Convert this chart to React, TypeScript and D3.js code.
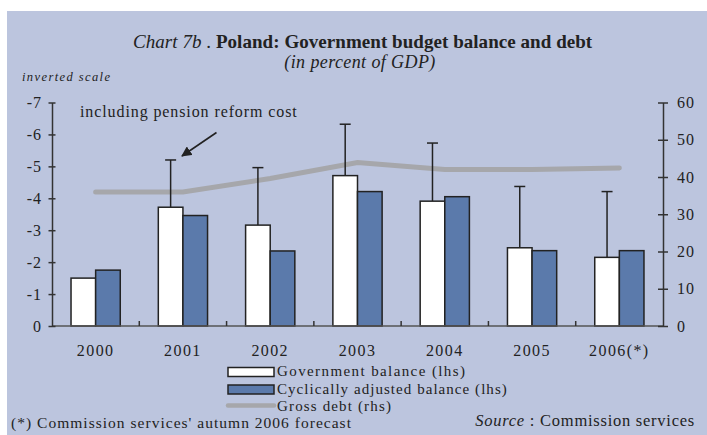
import React, { useEffect, useRef } from "react";
import * as d3 from "d3";

const years = ["2000", "2001", "2002", "2003", "2004", "2005", "2006(*)"];
const govBalance = [-1.5, -3.72, -3.16, -4.71, -3.91, -2.45, -2.15];
const cycBalance = [-1.75, -3.46, -2.35, -4.21, -4.05, -2.36, -2.36];
const pensionIncl = [null, -5.2, -4.96, -6.32, -5.73, -4.37, -4.21];
const grossDebt = [36.0, 36.0, 39.6, 43.9, 42.0, 42.0, 42.4];
const leftTicks = [0, -1, -2, -3, -4, -5, -6, -7];
const rightTicks = [0, 10, 20, 30, 40, 50, 60];

const W = 707;
const H = 435;
const FONT = "'Liberation Serif', 'Times New Roman', serif";
const BG = "#bcc5de";
const BLUE = "#5b7aab";
const DEBT = "#a6a7ab";

function App() {
  const ref = useRef<SVGSVGElement>(null);

  useEffect(() => {
    const svg = d3.select(ref.current);
    svg.selectAll("*").remove();

    const x0 = 52,
      x1 = 663,
      yTop = 102.5,
      yBot = 326;

    const x = d3.scaleBand().domain(years).range([x0, x1]).padding(0);
    const yL = d3.scaleLinear().domain([0, -7]).range([yBot, yTop]);
    const yR = d3.scaleLinear().domain([0, 60]).range([yBot, yTop]);
    const barW = x.bandwidth() * 0.282;

    svg.append("rect").attr("x", 7).attr("y", 11).attr("width", W - 7).attr("height", H - 11).attr("fill", BG);

    // titles
    const t = svg.append("text").attr("x", 133).attr("y", 48).attr("font-family", FONT).attr("font-size", 19)
      .attr("letter-spacing", 0.05).attr("fill", "#222");
    t.append("tspan").attr("font-style", "italic").text("Chart 7b");
    t.append("tspan").text(" . ");
    t.append("tspan").attr("font-weight", "bold").text("Poland: Government budget balance and debt");

    svg.append("text").attr("x", 360).attr("y", 68).attr("text-anchor", "middle").attr("font-family", FONT)
      .attr("font-size", 18).attr("font-style", "italic").attr("letter-spacing", 0.4).attr("fill", "#222")
      .text("(in percent of GDP)");

    svg.append("text").attr("x", 22).attr("y", 81).attr("font-family", FONT).attr("font-size", 12.5)
      .attr("font-style", "italic").attr("letter-spacing", 1.4).attr("fill", "#222").text("inverted scale");

    const g = svg.append("g");

    // gross debt line
    const line = d3.line<number>()
      .x((d, i) => (x(years[i]) as number) + x.bandwidth() / 2)
      .y((d) => yR(d));
    g.append("path").datum(grossDebt).attr("d", line).attr("fill", "none")
      .attr("stroke", DEBT).attr("stroke-width", 5).attr("stroke-linecap", "round");

    // error bars (incl. pension reform cost)
    years.forEach((yr, i) => {
      const v = pensionIncl[i];
      if (v == null) return;
      const cx = (x(yr) as number) + x.bandwidth() / 2 - barW / 2;
      g.append("line").attr("x1", cx).attr("x2", cx).attr("y1", yL(govBalance[i])).attr("y2", yL(v))
        .attr("stroke", "#222").attr("stroke-width", 1.5);
      g.append("line").attr("x1", cx - 5.5).attr("x2", cx + 5.5).attr("y1", yL(v)).attr("y2", yL(v))
        .attr("stroke", "#222").attr("stroke-width", 1.5);
    });

    // bars
    g.selectAll(".gov").data(govBalance).join("rect")
      .attr("x", (d, i) => (x(years[i]) as number) + x.bandwidth() / 2 - barW)
      .attr("y", (d) => yL(d)).attr("width", barW).attr("height", (d) => yBot - yL(d))
      .attr("fill", "#fff").attr("stroke", "#222").attr("stroke-width", 1.5);
    g.selectAll(".cyc").data(cycBalance).join("rect")
      .attr("x", (d, i) => (x(years[i]) as number) + x.bandwidth() / 2)
      .attr("y", (d) => yL(d)).attr("width", barW).attr("height", (d) => yBot - yL(d))
      .attr("fill", BLUE).attr("stroke", "#222").attr("stroke-width", 1.5);

    // x axis
    g.append("line").attr("x1", x0).attr("x2", x1).attr("y1", yBot).attr("y2", yBot).attr("stroke", "#555").attr("stroke-width", 1.5);
    years.slice(1).forEach((yr) => {
      const xx = x(yr) as number;
      g.append("line").attr("x1", xx).attr("x2", xx).attr("y1", yBot).attr("y2", yBot - 5).attr("stroke", "#333").attr("stroke-width", 1.5);
    });
    g.selectAll(".yr").data(years).join("text")
      .attr("x", (d) => (x(d) as number) + x.bandwidth() / 2).attr("y", 356)
      .attr("text-anchor", "middle").attr("font-family", FONT).attr("font-size", 16)
      .attr("letter-spacing", 1.4).attr("fill", "#222").text((d) => d);

    // left axis
    const la = g.append("g").attr("transform", `translate(${x0},0)`)
      .call(d3.axisLeft(yL).tickValues(leftTicks).tickSize(0).tickPadding(10).tickFormat((d) => String(d)));
    la.select(".domain").attr("stroke", "#333").attr("stroke-width", 1.5);
    la.selectAll(".tick").append("line").attr("x1", -3.5).attr("x2", 3.5).attr("stroke", "#333").attr("stroke-width", 1.5);
    la.selectAll("text").attr("font-family", FONT).attr("font-size", 16).attr("fill", "#222").attr("letter-spacing", 1);

    // right axis
    const ra = g.append("g").attr("transform", `translate(${x1},0)`)
      .call(d3.axisRight(yR).tickValues(rightTicks).tickSize(0).tickPadding(14).tickFormat((d) => String(d)));
    ra.select(".domain").attr("stroke", "#333").attr("stroke-width", 1.5);
    ra.selectAll(".tick").append("line").attr("x1", -5).attr("x2", 5).attr("stroke", "#333").attr("stroke-width", 1.5);
    ra.selectAll("text").attr("font-family", FONT).attr("font-size", 16).attr("fill", "#222").attr("letter-spacing", 1);

    // annotation
    svg.append("text").attr("x", 80).attr("y", 117).attr("font-family", FONT).attr("font-size", 16)
      .attr("letter-spacing", 0.9).attr("fill", "#222").text("including pension reform cost");
    svg.append("defs").append("marker").attr("id", "arr").attr("viewBox", "0 0 10 10").attr("refX", 9).attr("refY", 5)
      .attr("markerWidth", 6.5).attr("markerHeight", 6.5).attr("orient", "auto")
      .append("path").attr("d", "M0,0 L10,5 L0,10 z").attr("fill", "#222");
    svg.append("line").attr("x1", 216.5).attr("y1", 132.5).attr("x2", 182).attr("y2", 156)
      .attr("stroke", "#222").attr("stroke-width", 1.6).attr("marker-end", "url(#arr)");

    // legend
    const lg = svg.append("g").attr("font-family", FONT).attr("font-size", 15).attr("fill", "#222");
    lg.append("rect").attr("x", 228).attr("y", 367.5).attr("width", 46).attr("height", 9).attr("fill", "#fff").attr("stroke", "#222").attr("stroke-width", 1.5);
    lg.append("text").attr("x", 277).attr("y", 376).attr("letter-spacing", 1.4).text("Government balance (lhs)");
    lg.append("rect").attr("x", 228).attr("y", 385).attr("width", 46).attr("height", 9).attr("fill", BLUE).attr("stroke", "#222").attr("stroke-width", 1.5);
    lg.append("text").attr("x", 277).attr("y", 393.5).attr("letter-spacing", 1.05).text("Cyclically adjusted balance (lhs)");
    lg.append("line").attr("x1", 228).attr("x2", 274).attr("y1", 405.5).attr("y2", 405.5).attr("stroke", DEBT).attr("stroke-width", 4.5).attr("stroke-linecap", "round");
    lg.append("text").attr("x", 277).attr("y", 410.5).attr("letter-spacing", 1.15).text("Gross debt (rhs)");

    // footer
    svg.append("text").attr("x", 11).attr("y", 428).attr("font-family", FONT).attr("font-size", 15.5)
      .attr("letter-spacing", 1.02).attr("fill", "#222").text("(*) Commission services' autumn 2006 forecast");
    const src = svg.append("text").attr("x", 695).attr("y", 426).attr("text-anchor", "end").attr("font-family", FONT)
      .attr("font-size", 16.5).attr("letter-spacing", 0.75).attr("fill", "#222");
    src.append("tspan").attr("font-style", "italic").text("Source");
    src.append("tspan").text(" : Commission services");
  }, []);

  return (
    <div style={{ position: "absolute", left: 0, top: 0 }}>
      <svg ref={ref} width={W} height={H} style={{ display: "block", background: "#fff" }} />
    </div>
  );
}

export default App;
